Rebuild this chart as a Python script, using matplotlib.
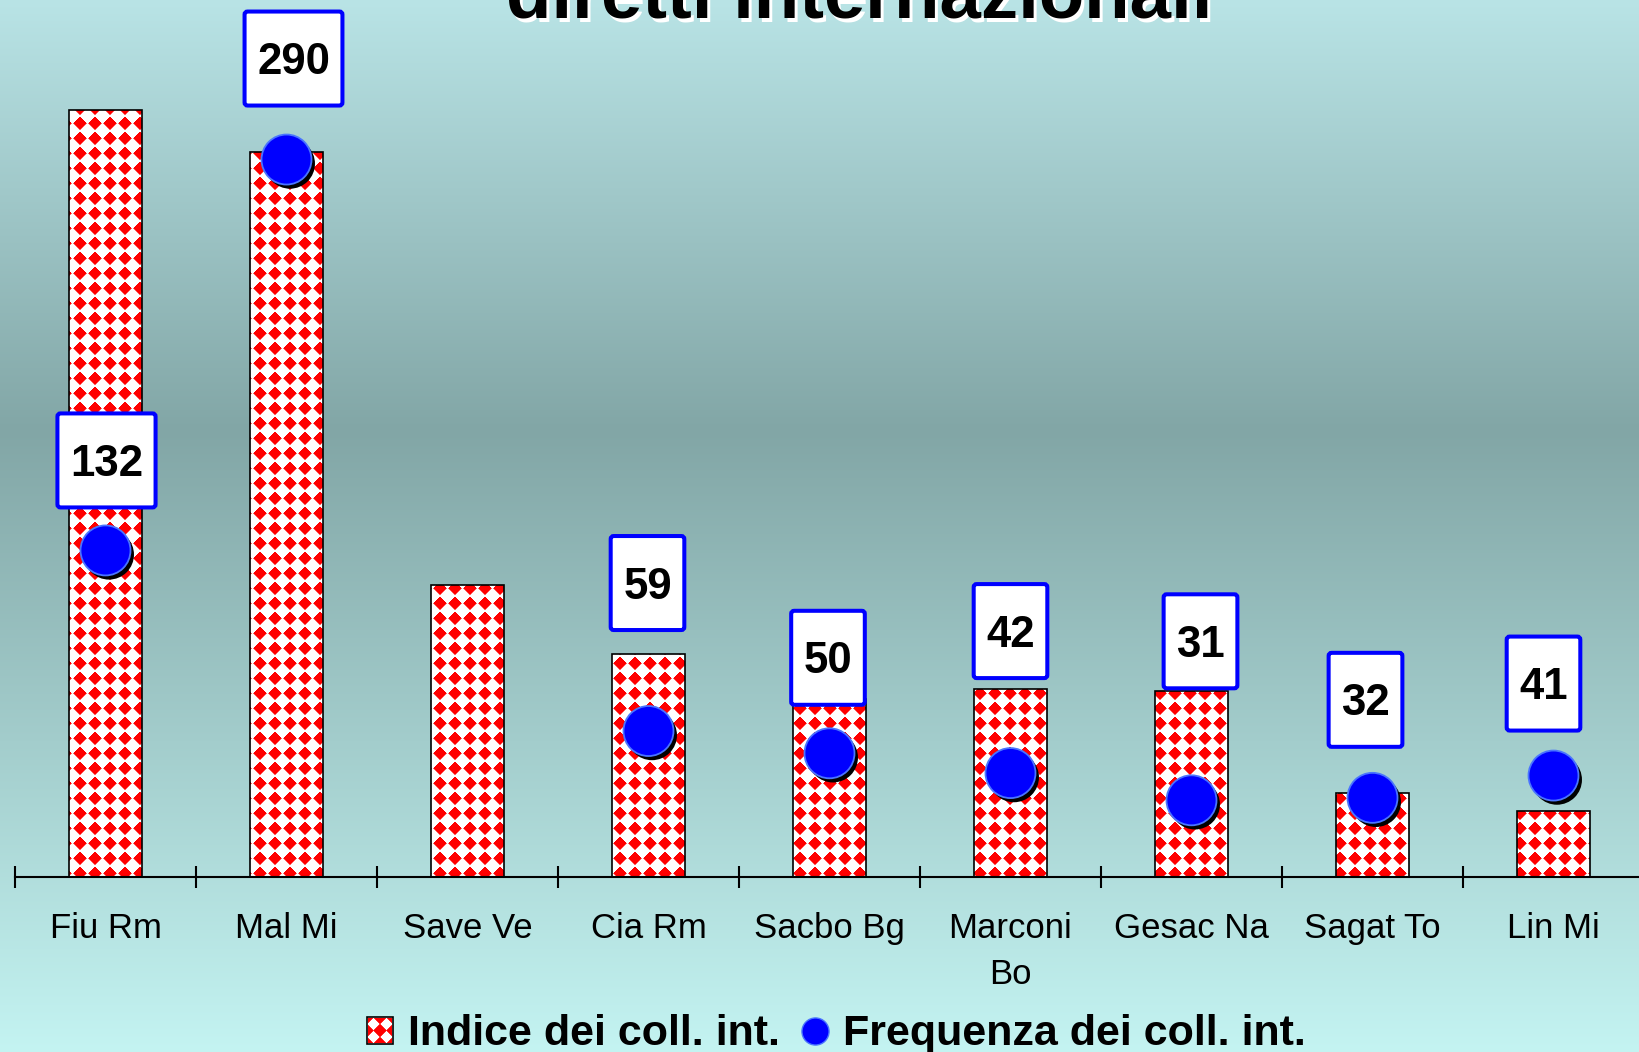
import numpy as np
import matplotlib
matplotlib.use('Agg')
import matplotlib.pyplot as plt
import matplotlib.patheffects as pe
from matplotlib.patches import FancyBboxPatch, PathPatch, Patch
from matplotlib.lines import Line2D
from matplotlib.path import Path
from matplotlib.transforms import IdentityTransform

airports = ['Fiu Rm', 'Mal Mi', 'Save Ve', 'Cia Rm', 'Sacbo Bg', 'Marconi\nBo',
            'Gesac Na', 'Sagat To', 'Lin Mi']
indice = [310, 293, 118, 90, 72, 76, 75, 34, 26.5]
frequenza = [132, 290, np.nan, 59, 50, 42, 31, 32, 41]

# value boxes were dragged around by hand in the slide: offset from the dot, in pixels
box_offsets = [(1, 90), (7, 101), None, (-1, 148), (-1.5, 95.5), (0, 142),
               (9, 159), (-7, 98), (-10, 92)]

plt.rcParams['font.family'] = ['Liberation Sans', 'DejaVu Sans']

W_PX, H_PX = 1640, 1052
fig = plt.figure(figsize=(W_PX / 100, H_PX / 100), dpi=100)


def diamonds(xs, ys, x0=440, y0=588.3, q=15.0):
    # red diamond checker on white, in figure pixels (y from the top)
    dx = (xs - x0 + q / 2) % q - q / 2
    dy = (ys - y0 + q / 2) % q - q / 2
    a = np.clip(7.3 - (np.abs(dx)[None, :] + np.abs(dy)[:, None]), 0, 1)
    arr = np.ones((len(ys), len(xs), 3))
    arr[..., 1] = 1 - a
    arr[..., 2] = 1 - a
    return arr


# background gradient (light cyan -> grey teal -> light cyan)
bg = fig.add_axes([0, 0, 1, 1], zorder=-1)
rows = np.arange(H_PX)
stops = [0, 430, H_PX]
cols = np.array([[185, 228, 230], [130, 166, 166], [196, 244, 242]]) / 255
grad = np.stack([np.interp(rows, stops, cols[:, k]) for k in range(3)], axis=1)
bg.imshow(grad[:, None, :], aspect='auto', extent=[0, 1, 0, 1], interpolation='bilinear')
bg.axis('off')

# main axes, pixel aligned: left at 15px, baseline 877px from top
ax_w, ax_h = 1629, 877
ax = fig.add_axes([15 / W_PX, (H_PX - ax_h) / H_PX, ax_w / W_PX, ax_h / H_PX])
ax.set_facecolor('none')
ymax = ax_h / 2.474
x = np.arange(len(airports))

pattern = diamonds(15 + np.arange(ax_w) + 0.5, np.arange(ax_h) + 0.5)

bars = ax.bar(x, indice, width=0.4, color='white', edgecolor='none', zorder=1)
img = ax.imshow(pattern, extent=(-0.5, 8.5, 0, ymax), origin='upper',
                aspect='auto', interpolation='nearest', zorder=1.5)
clip = Path.make_compound_path(*[r.get_path().transformed(r.get_patch_transform())
                                 for r in bars])
clip_patch = PathPatch(clip, transform=ax.transData, facecolor='none', edgecolor='none')
ax.add_patch(clip_patch)
img.set_clip_path(clip_patch)
ax.bar(x, indice, width=0.4, fill=False, edgecolor='black', linewidth=1.2, zorder=2)

ax.plot(x, frequenza, 'o', ms=36, mfc='#0000ff', mec='#4a74ff', mew=1.3, zorder=3,
        path_effects=[pe.SimplePatchShadow(offset=(2.5, -3), shadow_rgbFace='black', alpha=1.0),
                      pe.Normal()])

ax.set_xlim(-0.5, 8.5)
ax.set_ylim(0, ymax)
for s in ['top', 'left', 'right']:
    ax.spines[s].set_visible(False)
ax.spines['bottom'].set_linewidth(1.5)
ax.set_yticks([])
ax.set_xticks(np.arange(-0.5, 9, 1))
ax.set_xticklabels([])
ax.tick_params(axis='x', which='major', direction='inout', length=16, width=1.5)
ax.set_xticks(x, airports, minor=True)
ax.tick_params(axis='x', which='minor', length=0, pad=25, labelsize=25)
for lab in ax.get_xticklabels(minor=True):
    lab.set_linespacing(1.5)

# value boxes above the dots
renderer = fig.canvas.get_renderer()
cap = 0.716 * 31.5 * 100 / 72
for xi, f, off in zip(x, frequenza, box_offsets):
    if off is None:
        continue
    cx, cy = ax.transData.transform((xi, f)) + np.array(off)
    t = ax.annotate(f'{f:.0f}', (xi, f), xytext=(off[0], off[1] - cap / 2),
                    textcoords='offset pixels', ha='center', va='baseline',
                    fontsize=31.5, fontweight='bold', color='black', zorder=6,
                    annotation_clip=False)
    w = t.get_window_extent(renderer).width + 25
    h = 94
    box = FancyBboxPatch((cx - w / 2, cy - h / 2), w, h,
                         boxstyle='round,pad=0,rounding_size=3',
                         transform=IdentityTransform(), facecolor='white',
                         edgecolor='#0000ff', linewidth=2.9, zorder=5, clip_on=False)
    ax.add_artist(box)

# title, cut off at the top of the slide
title_kw = dict(ha='center', va='baseline', fontsize=53.6, fontweight='bold')
fig.text((859 + 3) / W_PX, 1 - (18 + 3) / H_PX, 'diretti internazionali', color='white', **title_kw)
fig.text(859 / W_PX, 1 - 18 / H_PX, 'diretti internazionali', color='black', **title_kw)

# legend
h_bar = Patch(facecolor='white', edgecolor='black', linewidth=1.2)
h_dot = Line2D([], [], marker='o', linestyle='none', ms=19.5, mfc='#0000ff', mec='#4a74ff')
leg = fig.legend([h_bar, h_dot], ['Indice dei coll. int.', 'Frequenza dei coll. int.'],
                 loc='center', bbox_to_anchor=(836.5 / W_PX, 1 - 1034.4 / H_PX), ncol=2,
                 frameon=False, prop=dict(weight='bold', size=31), handlelength=0.6,
                 handleheight=0.6, handletextpad=0.35, columnspacing=0.5,
                 borderpad=0, borderaxespad=0)

# fill the legend square with the same diamond pattern
fig.canvas.draw()
bb = leg.legend_handles[0].get_window_extent(fig.canvas.get_renderer())
x0, y0 = int(round(bb.x0)) + 1, int(round(bb.y0)) + 1
x1, y1 = int(round(bb.x1)) - 1, int(round(bb.y1)) - 1
sym = diamonds(np.arange(x0, x1) + 0.5, H_PX - (np.arange(y1, y0, -1) - 0.5),
               x0=(x0 + x1) / 2, y0=H_PX - (y0 + y1) / 2, q=13.0)
fig.figimage(sym, xo=x0, yo=y0, origin='upper', zorder=10)

fig.savefig('out.png', dpi=100)
